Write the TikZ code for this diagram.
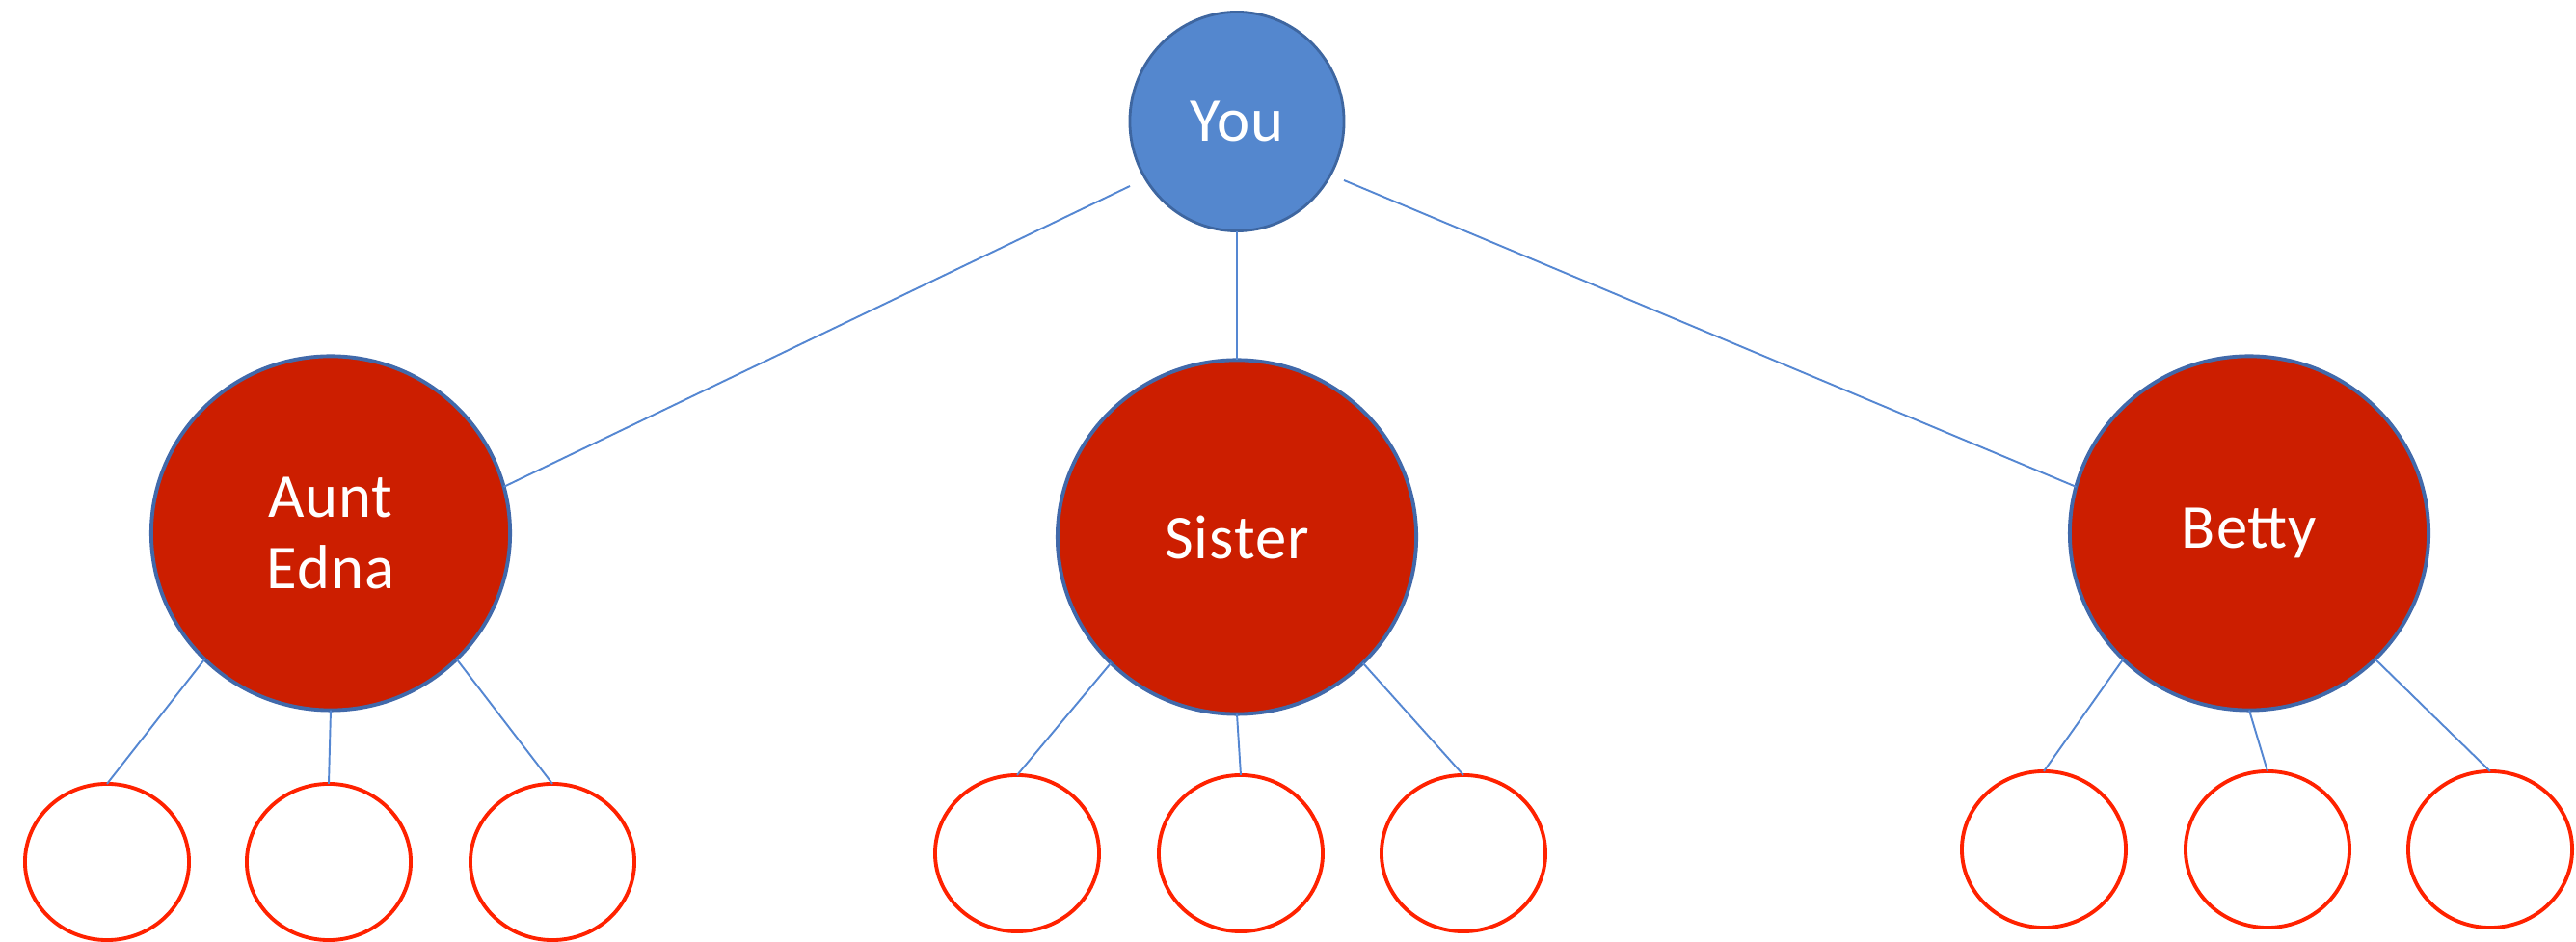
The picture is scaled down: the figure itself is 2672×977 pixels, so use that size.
\documentclass[tikz,border=0pt]{standalone}
\usepackage{fontspec}
\setmainfont[LetterSpace=1.5]{Carlito}
\usetikzlibrary{shapes.geometric}
\definecolor{youblue}{RGB}{84,135,206}
\definecolor{youedge}{RGB}{62,102,160}
\definecolor{bigred}{RGB}{204,30,0}
\definecolor{bigedge}{RGB}{65,105,170}
\definecolor{smallred}{RGB}{255,34,0}
\definecolor{linkcol}{RGB}{85,135,210}
\tikzset{
  younode/.style={ellipse, draw=youedge, fill=youblue, line width=0.8pt, inner sep=0pt, outer sep=0pt,
    minimum width=2.22cm, minimum height=2.27cm, text=white, font=\fontsize{18.4}{22}\selectfont},
  bignode/.style={ellipse, draw=bigedge, fill=bigred, line width=1.1pt, inner sep=0pt, outer sep=0pt,
    minimum width=3.72cm, minimum height=3.67cm, text=white, align=center, font=\fontsize{18.4}{21.2}\selectfont},
  smallnode/.style={ellipse, draw=smallred, fill=white, line width=1.1pt, inner sep=0pt, outer sep=0pt,
    minimum width=1.70cm, minimum height=1.62cm},
  link/.style={draw=linkcol, line width=0.55pt}
}
\begin{document}
\begin{tikzpicture}[x=0.01cm,y=-0.01cm]
\useasboundingbox (0,0) rectangle (2672,977);
% top
\node[younode] (you) at (1283,126) {You};
% middle level
\node[bignode] (edna) at (343,553) {Aunt\\Edna};
\node[bignode] (sister) at (1283,557) {Sister};
\node[bignode] (betty) at (2333,553) {Betty};
% bottom level
\node[smallnode] (e1) at (111,894) {};
\node[smallnode] (e2) at (341,894) {};
\node[smallnode] (e3) at (573,894) {};
\node[smallnode] (s1) at (1055,885) {};
\node[smallnode] (s2) at (1287,885) {};
\node[smallnode] (s3) at (1518,885) {};
\node[smallnode] (b1) at (2120,881) {};
\node[smallnode] (b2) at (2352,881) {};
\node[smallnode] (b3) at (2583,881) {};
% free ends near You
\coordinate (yl) at (1172,193);
\coordinate (yr) at (1394,187);
% connectors
\draw[link] (yl) -- (edna.15);
\draw[link] (you.south) -- (sister.north);
\draw[link] (yr) -- (betty.165);
\draw[link] (edna.225) -- (e1.north);
\draw[link] (edna.270) -- (e2.north);
\draw[link] (edna.315) -- (e3.north);
\draw[link] (sister.225) -- (s1.north);
\draw[link] (sister.270) -- (s2.north);
\draw[link] (sister.315) -- (s3.north);
\draw[link] (betty.225) -- (b1.north);
\draw[link] (betty.270) -- (b2.north);
\draw[link] (betty.315) -- (b3.north);
\end{tikzpicture}
\end{document}
